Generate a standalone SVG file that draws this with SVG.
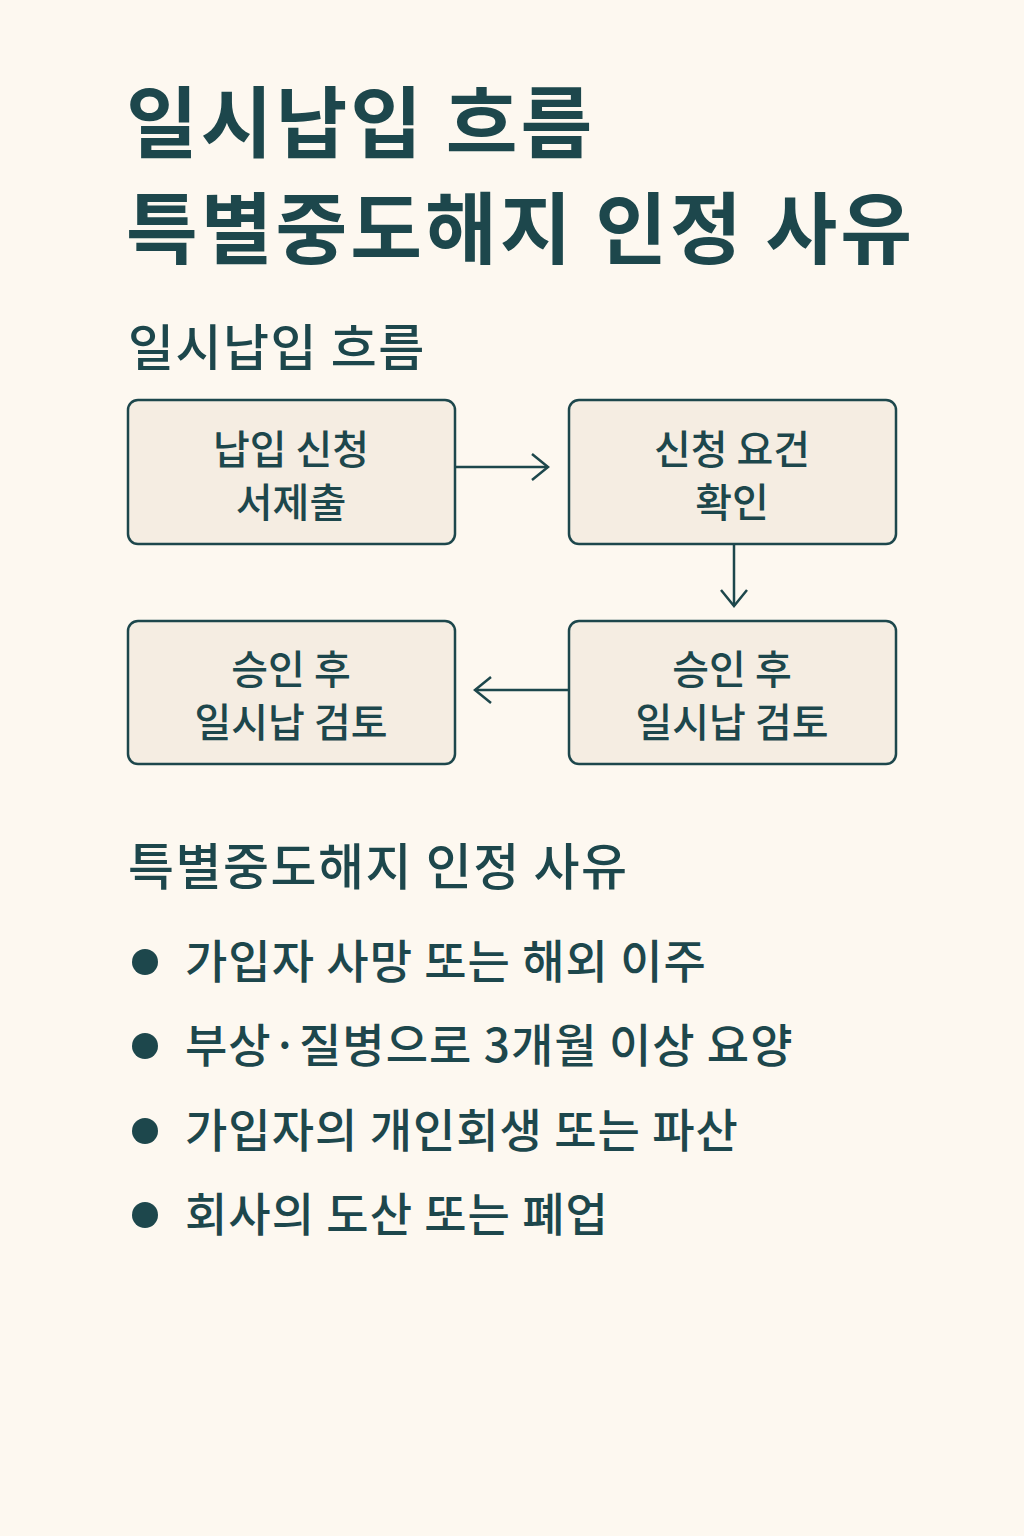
<svg xmlns="http://www.w3.org/2000/svg" width="1024" height="1536" viewBox="0 0 1024 1536">
<style>
text{font-family:"Noto Sans CJK KR","Noto Sans",sans-serif;fill:#1d474c}
.t{font-size:78px;font-weight:700;letter-spacing:3px}
.h{font-size:50px;font-weight:500;letter-spacing:1.5px}
.b{font-size:40px;font-weight:500;text-anchor:middle}
.l{font-size:46px;font-weight:500;letter-spacing:1px}
.box{fill:#f5ede2;stroke:#1d474c;stroke-width:2.5}
.c{stroke:#1d474c;stroke-width:2.5;fill:none}
</style>
<defs><marker id="a" viewBox="0 0 20 30" refX="18" refY="15" markerWidth="20" markerHeight="30" markerUnits="userSpaceOnUse" orient="auto"><path d="M2 2 L18 15 L2 28" fill="none" stroke="#1d474c" stroke-width="2.5"/></marker></defs>
<rect width="1024" height="1536" fill="#fdf8f0"/>
<text class="t" x="126" y="152">일시납입 흐름</text>
<text class="t" x="126" y="258">특별중도해지 인정 사유</text>
<text class="h" x="128" y="366">일시납입 흐름</text>
<g id="n1"><rect class="box" x="128" y="400" width="327" height="144" rx="10"/><text class="b" x="291" y="464">납입 신청</text><text class="b" x="291" y="517">서제출</text></g>
<g id="n2"><rect class="box" x="569" y="400" width="327" height="144" rx="10"/><text class="b" x="732" y="464">신청 요건</text><text class="b" x="732" y="517">확인</text></g>
<g id="n3"><rect class="box" x="569" y="621" width="327" height="143" rx="10"/><text class="b" x="732" y="684">승인 후</text><text class="b" x="732" y="737">일시납 검토</text></g>
<g id="n4"><rect class="box" x="128" y="621" width="327" height="143" rx="10"/><text class="b" x="291" y="684">승인 후</text><text class="b" x="291" y="737">일시납 검토</text></g>
<g id="connectors">
<line class="c" x1="455" y1="467" x2="548" y2="467" marker-end="url(#a)"/>
<line class="c" x1="734" y1="544" x2="734" y2="606" marker-end="url(#a)"/>
<line class="c" x1="569" y1="690" x2="475" y2="690" marker-end="url(#a)"/>
</g>
<text class="h" x="128" y="885">특별중도해지 인정 사유</text>
<g fill="#1d474c"><circle cx="145" cy="962" r="13"/><circle cx="145" cy="1046" r="13"/><circle cx="145" cy="1131" r="13"/><circle cx="145" cy="1215" r="13"/></g>
<text class="l" x="185" y="978">가입자 사망 또는 해외 이주</text>
<text class="l" x="185" y="1062">부상·질병으로 3개월 이상 요양</text>
<text class="l" x="185" y="1147">가입자의 개인회생 또는 파산</text>
<text class="l" x="185" y="1231">회사의 도산 또는 폐업</text>
</svg>
